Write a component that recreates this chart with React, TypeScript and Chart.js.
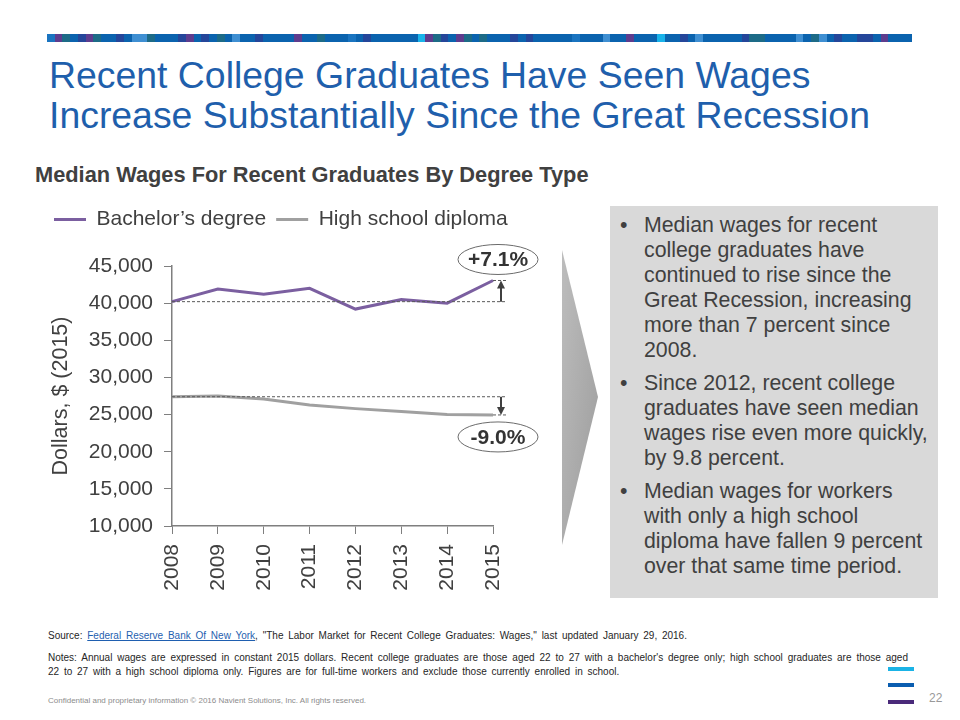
import React, { useEffect, useRef } from 'react';
import { Chart, registerables } from 'chart.js';

Chart.register(...registerables);

// ---------- chart data ----------
const years = ['2008', '2009', '2010', '2011', '2012', '2013', '2014', '2015'];
const bachelorWages = [40200, 41900, 41200, 42000, 39200, 40500, 40000, 43050];
const highSchoolWages = [27400, 27500, 27100, 26300, 25800, 25400, 25000, 24950];
const seriesNames = ['Bachelor\u2019s degree', 'High school diploma'];
const seriesColors = ['#7b5fa0', '#a0a0a0'];
const changeLabels = ['+7.1%', '-9.0%'];
const yMin = 10000;
const yMax = 45000;
const yStep = 5000;
const yTitle = 'Dollars, $ (2015)';

// ---------- slide text ----------
const titleLines = [
  'Recent College Graduates Have Seen Wages',
  'Increase Substantially Since the Great Recession',
];
const subtitle = 'Median Wages For Recent Graduates By Degree Type';
const bullets: string[][] = [
  [
    'Median wages for recent',
    'college graduates have',
    'continued to rise since the',
    'Great Recession, increasing',
    'more than 7 percent since',
    '2008.',
  ],
  [
    'Since 2012, recent college',
    'graduates have seen median',
    'wages rise even more quickly,',
    'by 9.8 percent.',
  ],
  [
    'Median wages for workers',
    'with only a high school',
    'diploma have fallen 9 percent',
    'over that same time period.',
  ],
];
const notesLines = [
  "Notes: Annual wages are expressed in constant 2015 dollars. Recent college graduates are those aged 22 to 27 with a bachelor's degree only; high school graduates are those aged",
  '22 to 27 with a high school diploma only. Figures are for full-time workers and exclude those currently enrolled in school.',
];

// decorative strip pattern
const stripPattern =
  'MPTBDPTBBDBLLTBBBDPBDBTBLBBDBBBBPBBTBBBMBDBBBBBBCPTDBPTBTBBBDBDBBBBBMBBBLBBPBBBCBBDBLBBBBBDTTBBBBLBTLBDBBDDBPBBB';
const stripColors: Record<string, string> = {
  B: '#0b63ae',
  M: '#1a74c0',
  L: '#3f8fd2',
  D: '#25469a',
  P: '#5e3c8e',
  T: '#1d6b87',
  C: '#18b3ea',
};

const FONT = "'Liberation Sans', Arial, Helvetica, sans-serif";

const changeNotesPlugin = {
  id: 'changeNotes',
  afterDatasetsDraw(chart: any) {
    const { ctx, scales } = chart;
    const x = scales.x;
    const y = scales.y;
    const n = years.length - 1;
    const left = x.getPixelForValue(0);
    const lastX = x.getPixelForValue(n);
    const arrowX = lastX + 8;
    const lineEnd = lastX + 13;
    const sets = [bachelorWages, highSchoolWages];
    sets.forEach((data, i) => {
      const y0 = y.getPixelForValue(data[0]);
      const y1 = y.getPixelForValue(data[n]);
      ctx.save();
      // dashed reference lines
      ctx.strokeStyle = '#595959';
      ctx.lineWidth = 1;
      ctx.setLineDash([3, 2]);
      ctx.beginPath();
      ctx.moveTo(left, y0);
      ctx.lineTo(lineEnd, y0);
      ctx.moveTo(lastX, y1);
      ctx.lineTo(lineEnd, y1);
      ctx.stroke();
      ctx.setLineDash([]);
      // arrow
      const dir = y1 < y0 ? -1 : 1;
      ctx.strokeStyle = '#404040';
      ctx.fillStyle = '#404040';
      ctx.lineWidth = 2;
      ctx.beginPath();
      ctx.moveTo(arrowX, y0);
      ctx.lineTo(arrowX, y1 - dir * 6);
      ctx.stroke();
      ctx.beginPath();
      ctx.moveTo(arrowX, y1);
      ctx.lineTo(arrowX - 4, y1 - dir * 8);
      ctx.lineTo(arrowX + 4, y1 - dir * 8);
      ctx.closePath();
      ctx.fill();
      // ellipse label
      const cx = arrowX - 3;
      const cy = dir < 0 ? y1 - 21 : y1 + 22;
      ctx.beginPath();
      ctx.ellipse(cx, cy, 40, 15, 0, 0, Math.PI * 2);
      ctx.fillStyle = '#ffffff';
      ctx.fill();
      ctx.strokeStyle = '#6b6b6b';
      ctx.lineWidth = 1;
      ctx.stroke();
      ctx.fillStyle = '#333333';
      ctx.font = `bold 21px ${FONT}`;
      ctx.textAlign = 'center';
      ctx.textBaseline = 'middle';
      ctx.fillText(changeLabels[i], cx, cy + 1);
      ctx.restore();
    });
  },
};

function WageChart() {
  const ref = useRef<HTMLCanvasElement | null>(null);
  useEffect(() => {
    if (!ref.current) return;
    Chart.defaults.font.family = FONT;
    const chart = new Chart(ref.current, {
      type: 'line',
      data: {
        labels: years,
        datasets: [
          {
            label: seriesNames[0],
            data: bachelorWages,
            borderColor: seriesColors[0],
            backgroundColor: seriesColors[0],
            borderWidth: 3,
            pointRadius: 0,
            tension: 0,
            fill: false,
          },
          {
            label: seriesNames[1],
            data: highSchoolWages,
            borderColor: seriesColors[1],
            backgroundColor: seriesColors[1],
            borderWidth: 3,
            pointRadius: 0,
            tension: 0,
            fill: false,
          },
        ],
      },
      options: {
        responsive: false,
        animation: false,
        devicePixelRatio: 1,
        layout: { padding: { left: 4, right: 6, top: 7, bottom: 0 } },
        plugins: {
          legend: {
            display: true,
            position: 'top',
            align: 'start',
            labels: {
              boxWidth: 32,
              boxHeight: 3,
              padding: 10,
              color: '#404040',
              font: { size: 21, family: FONT },
              generateLabels: (c: any) =>
                Chart.defaults.plugins.legend.labels
                  .generateLabels(c)
                  .map((l: any) => ({ ...l, lineWidth: 0 })),
            },
          },
          title: {
            display: true,
            text: '',
            position: 'top',
            weight: 500,
            font: { size: 10, lineHeight: 1 },
            padding: { top: 0, bottom: 16 },
          },
          subtitle: {
            display: true,
            text: '',
            position: 'right',
            fullSize: false,
            weight: 100,
            font: { size: 10, lineHeight: 1 },
            padding: { top: 0, bottom: 51 },
          },
          tooltip: { enabled: false },
        },
        scales: {
          x: {
            offset: false,
            grid: {
              drawOnChartArea: false,
              drawTicks: true,
              tickLength: 8,
              color: '#7f7f7f',
            },
            border: { display: true, color: '#7f7f7f', width: 1.5 },
            ticks: {
              minRotation: 90,
              maxRotation: 90,
              padding: 10,
              color: '#404040',
              font: { size: 21, family: FONT },
            },
            afterFit: (s: any) => {
              s.height = 79;
            },
          },
          y: {
            min: yMin,
            max: yMax,
            grid: {
              drawOnChartArea: false,
              drawTicks: true,
              tickLength: 8,
              color: '#7f7f7f',
            },
            border: { display: true, color: '#7f7f7f', width: 1.5 },
            ticks: {
              stepSize: yStep,
              padding: 11,
              color: '#404040',
              font: { size: 21, family: FONT },
              callback: (v: any) => Number(v).toLocaleString('en-US'),
            },
            title: {
              display: true,
              text: yTitle,
              color: '#404040',
              font: { size: 21.5, family: FONT },
              padding: { top: 4, bottom: 4 },
            },
            afterFit: (s: any) => {
              s.width = 128;
            },
          },
        },
      },
      plugins: [changeNotesPlugin],
    } as any);
    return () => chart.destroy();
  }, []);
  return (
    <canvas
      ref={ref}
      width={520}
      height={413}
      style={{ position: 'absolute', left: 40, top: 192, width: 520, height: 413, display: 'block' }}
    />
  );
}

export default function App() {
  const cells = stripPattern.split('');
  const cellW = 865 / cells.length;
  return (
    <div
      style={{
        position: 'absolute',
        left: 0,
        top: 0,
        width: 960,
        height: 720,
        background: '#ffffff',
        fontFamily: FONT,
        overflow: 'hidden',
      }}
    >
      {/* decorative strip */}
      <div style={{ position: 'absolute', left: 47, top: 34, height: 8, width: 865, display: 'flex' }}>
        {cells.map((c, i) => (
          <div key={i} style={{ width: cellW, height: 8, background: stripColors[c] }} />
        ))}
      </div>

      {/* title */}
      <div
        style={{
          position: 'absolute',
          left: 49,
          top: 55,
          fontSize: 37.4,
          lineHeight: '40px',
          color: '#1f5fac',
          whiteSpace: 'nowrap',
        }}
      >
        {titleLines.map((l, i) => (
          <div key={i}>{l}</div>
        ))}
      </div>

      {/* subtitle */}
      <div
        style={{
          position: 'absolute',
          left: 35,
          top: 162,
          fontSize: 21.8,
          lineHeight: '26px',
          fontWeight: 'bold',
          color: '#404040',
          whiteSpace: 'nowrap',
        }}
      >
        {subtitle}
      </div>

      <WageChart />

      {/* chevron */}
      <svg style={{ position: 'absolute', left: 555, top: 245, width: 50, height: 305 }} viewBox="555 245 50 305">
        <defs>
          <linearGradient id="chev" x1="0" y1="0" x2="1" y2="1">
            <stop offset="0" stopColor="#bdbdbd" />
            <stop offset="1" stopColor="#9c9c9c" />
          </linearGradient>
        </defs>
        <polygon points="562,250 598,397 562,545" fill="url(#chev)" />
      </svg>

      {/* bullet panel */}
      <div
        style={{
          position: 'absolute',
          left: 610,
          top: 206,
          width: 328,
          height: 392,
          background: '#d9d9d9',
          boxSizing: 'border-box',
          paddingTop: 7,
          color: '#404040',
          fontSize: 21.3,
          lineHeight: '25px',
        }}
      >
        {bullets.map((lines, i) => (
          <div key={i} style={{ position: 'relative', paddingLeft: 34, marginBottom: 8, whiteSpace: 'nowrap' }}>
            <span style={{ position: 'absolute', left: 10, top: 0 }}>{'\u2022'}</span>
            {lines.map((l, j) => (
              <div key={j}>{l}</div>
            ))}
          </div>
        ))}
      </div>

      {/* source */}
      <div
        style={{
          position: 'absolute',
          left: 48,
          top: 629,
          fontSize: 10,
          lineHeight: '14px',
          color: '#262626',
          whiteSpace: 'nowrap',
          wordSpacing: 2,
        }}
      >
        Source: <span style={{ color: '#1f5fb0', textDecoration: 'underline' }}>Federal Reserve Bank Of New York</span>,
        {' "The Labor Market for Recent College Graduates: Wages," last updated January 29, 2016.'}
      </div>

      {/* notes */}
      <div
        style={{
          position: 'absolute',
          left: 48,
          top: 651,
          width: 860,
          fontSize: 10,
          lineHeight: '14px',
          color: '#262626',
        }}
      >
        <div style={{ textAlign: 'justify', textAlignLast: 'justify' as any, whiteSpace: 'nowrap' }}>{notesLines[0]}</div>
        <div style={{ wordSpacing: 2, whiteSpace: 'nowrap' }}>{notesLines[1]}</div>
      </div>

      {/* footer */}
      <div
        style={{
          position: 'absolute',
          left: 48,
          top: 696,
          fontSize: 8,
          lineHeight: '10px',
          color: '#8c8c8c',
          whiteSpace: 'nowrap',
        }}
      >
        Confidential and proprietary information {'\u00a9'} 2016 Navient Solutions, Inc. All rights reserved.
      </div>
      <div style={{ position: 'absolute', left: 888, top: 667, width: 26, height: 4, background: '#1ab3e6' }} />
      <div style={{ position: 'absolute', left: 888, top: 683, width: 26, height: 4, background: '#0a5db0' }} />
      <div style={{ position: 'absolute', left: 888, top: 700, width: 26, height: 4, background: '#4a2a7a' }} />
      <div
        style={{ position: 'absolute', left: 929, top: 691, fontSize: 12, lineHeight: '14px', color: '#999999' }}
      >
        22
      </div>
    </div>
  );
}
